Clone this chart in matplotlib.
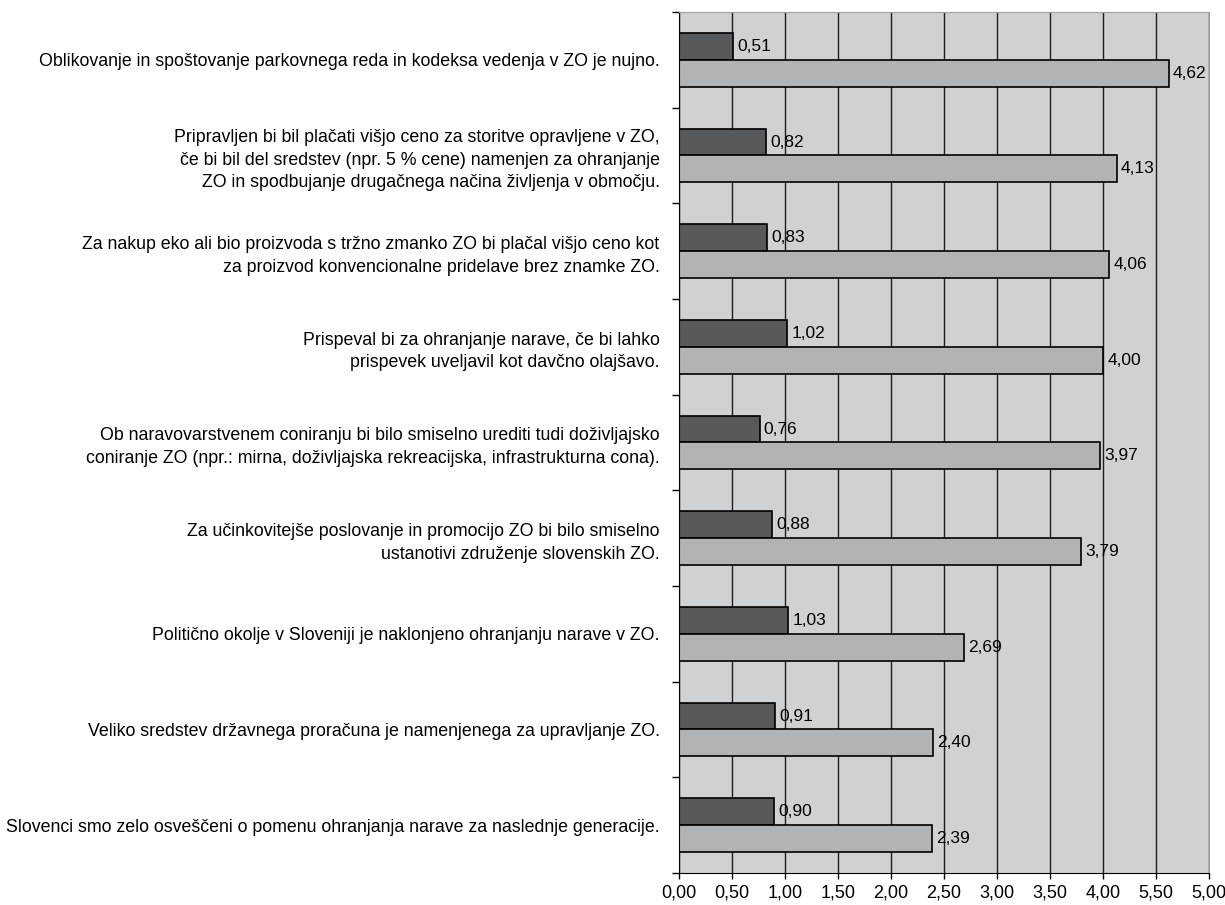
import numpy as np
import matplotlib.pyplot as plt

plt.rcParams['font.family'] = ['Liberation Sans', 'DejaVu Sans']

statements = [
    "Oblikovanje in spoštovanje parkovnega reda in kodeksa vedenja v ZO je nujno.",
    "Pripravljen bi bil plačati višjo ceno za storitve opravljene v ZO,\n"
    "če bi bil del sredstev (npr. 5 % cene) namenjen za ohranjanje\n"
    "ZO in spodbujanje drugačnega načina življenja v območju.",
    "Za nakup eko ali bio proizvoda s tržno zmanko ZO bi plačal višjo ceno kot\n"
    "za proizvod konvencionalne pridelave brez znamke ZO.",
    "Prispeval bi za ohranjanje narave, če bi lahko\n"
    "prispevek uveljavil kot davčno olajšavo.",
    "Ob naravovarstvenem coniranju bi bilo smiselno urediti tudi doživljajsko\n"
    "coniranje ZO (npr.: mirna, doživljajska rekreacijska, infrastrukturna cona).",
    "Za učinkovitejše poslovanje in promocijo ZO bi bilo smiselno\n"
    "ustanotivi združenje slovenskih ZO.",
    "Politično okolje v Sloveniji je naklonjeno ohranjanju narave v ZO.",
    "Veliko sredstev državnega proračuna je namenjenega za upravljanje ZO.",
    "Slovenci smo zelo osveščeni o pomenu ohranjanja narave za naslednje generacije.",
]
std_dev = [0.51, 0.82, 0.83, 1.02, 0.76, 0.88, 1.03, 0.91, 0.90]
mean = [4.62, 4.13, 4.06, 4.00, 3.97, 3.79, 2.69, 2.40, 2.39]
xtick_vals = [0, 0.5, 1, 1.5, 2, 2.5, 3, 3.5, 4, 4.5, 5]
xtick_text = ["0,00", "0,50", "1,00", "1,50", "2,00", "2,50", "3,00", "3,50",
              "4,00", "5,50", "5,00"]

fig = plt.figure(figsize=(12.25, 9.05), dpi=100)
ax = fig.add_axes([0.5543, 0.0354, 0.4327, 0.9514])
ax.set_facecolor('#d0d1d3')

y = np.arange(len(statements))
h = 0.28
b1 = ax.barh(y - h / 2, std_dev, height=h, color='#58595b', edgecolor='black', lw=1.2)
b2 = ax.barh(y + h / 2, mean, height=h, color='#b1b3b5', edgecolor='black', lw=1.2)

for bars, vals in ((b1, std_dev), (b2, mean)):
    for bar, v in zip(bars, vals):
        ax.annotate(f"{v:.2f}".replace('.', ','),
                    (v, bar.get_y() + bar.get_height() / 2),
                    xytext=(3, 0), textcoords='offset points',
                    ha='left', va='center', fontsize=12.5, annotation_clip=False)

ax.set_xlim(0, 5)
ax.set_ylim(len(statements) - 0.5, -0.5)
ax.set_xticks(xtick_vals)
ax.set_xticklabels(xtick_text, fontsize=13)
ax.tick_params(axis='x', direction='out', length=4, width=1, pad=4)

ax.set_yticks(np.arange(len(statements) + 1) - 0.5)
ax.set_yticklabels([])
ax.set_yticks(y, minor=True)
ax.set_yticklabels(statements, minor=True, fontsize=12.8)
ax.tick_params(axis='y', which='major', direction='out', length=5, width=1)
ax.tick_params(axis='y', which='minor', length=0, pad=14)
for lbl in ax.get_yticklabels(minor=True):
    lbl.set_linespacing(1.42)

ax.xaxis.grid(True, color='#1e1e1e', lw=1)
ax.set_axisbelow(True)

for side in ('top', 'right'):
    ax.spines[side].set_color('#a0a0a0')
for side in ('left', 'bottom'):
    ax.spines[side].set_color('black')

fig.savefig('out.png', dpi=100)
